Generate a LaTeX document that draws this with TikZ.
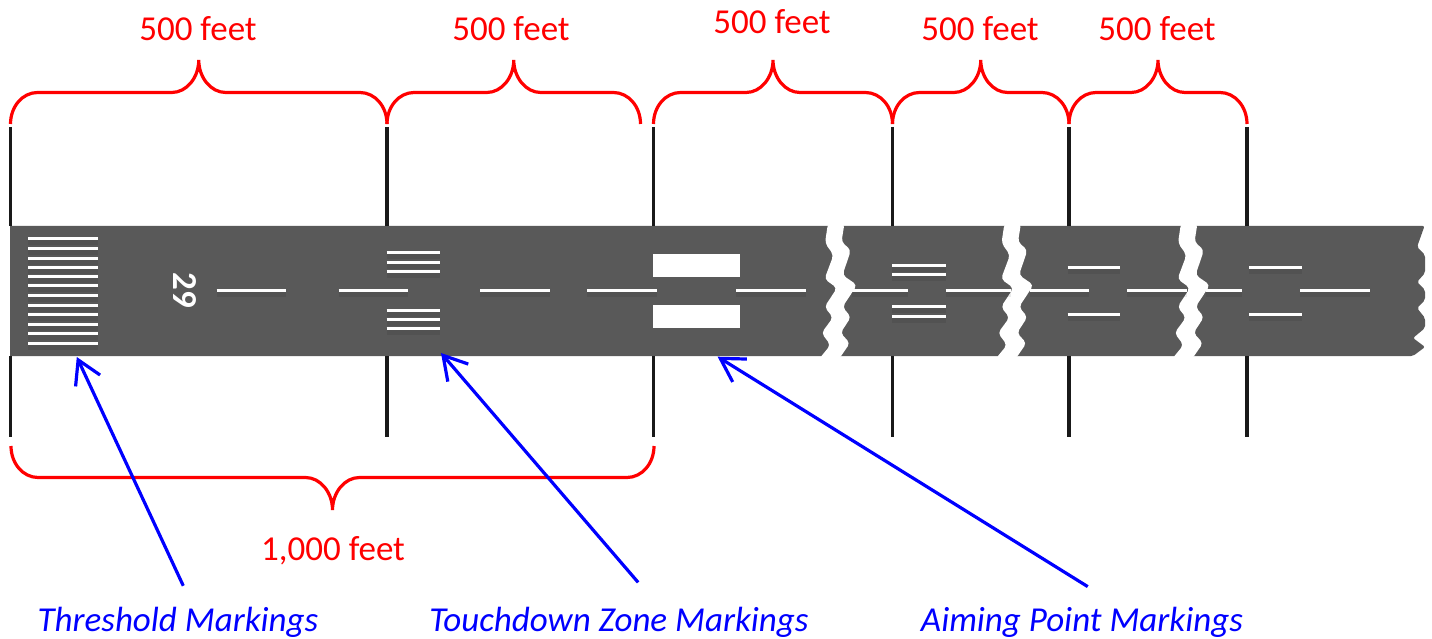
\documentclass[tikz,border=0pt]{standalone}
\usepackage{fontspec}
\setmainfont{Carlito}
\usetikzlibrary{positioning, arrows.meta}
\definecolor{runway}{HTML}{595959}
\newcommand{\spanbrace}[4]{
  \draw[bracket] (#1,#3) .. controls (#1,{#3-#4*17.4}) and ({#1+12},{#3-#4*31.5}) .. ({#1+27},{#3-#4*31.5})
    -- ({(#1+#2)/2-27},{#3-#4*31.5}) .. controls ({(#1+#2)/2-12},{#3-#4*31.5}) and ({(#1+#2)/2},{#3-#4*46.5}) .. ({(#1+#2)/2},{#3-#4*64})
    .. controls ({(#1+#2)/2},{#3-#4*46.5}) and ({(#1+#2)/2+12},{#3-#4*31.5}) .. ({(#1+#2)/2+27},{#3-#4*31.5})
    -- ({#2-27},{#3-#4*31.5}) .. controls ({#2-12},{#3-#4*31.5}) and (#2,{#3-#4*17.4}) .. (#2,#3);
}

\begin{document}
\begin{tikzpicture}[
    x=1pt, y=-1pt,
    span/.style={text=red, font=\fontsize{35}{38}\selectfont, inner sep=0pt},
    callout/.style={text=blue, font=\fontsize{35}{38}\selectfont\itshape, inner sep=0pt},
    bracket/.style={draw=red, line width=3.2pt},
    tick/.style={draw=black!90, line width=3.2pt},
    stripe/.style={draw=white, line width=3pt,
      preaction={draw=black, draw opacity=.08, line width=7pt, transform canvas={yshift=-3pt}}},
    slab/.style={fill=white},
    pointer/.style={draw=blue, line width=3.2pt,
      {Straight Barb[length=23pt, width=27pt, line width=3.2pt]}-}]
    \useasboundingbox (0,0) rectangle (1432,639);

    \fill[runway, rounded corners=2pt] (10,226) -- (1424.5,226) -- (1417,247) -- (1425,255) -- (1425,273)
      -- (1417,282) -- (1425,290) -- (1425,300) -- (1417,308) -- (1425,318)
      -- (1425,328) -- (1413,338) -- (1425,347) -- (1413,356) -- (10,356) -- cycle;
    \fill[runway] (10,226) rectangle (1400,356);
    \foreach \gapx in {0,176.5,353}
      \fill[white, rounded corners=4pt, xshift=\gapx pt] (828,223) -- (825,243) -- (833.5,255)
        -- (824.5,279) -- (837,288) -- (824.5,307) -- (833,317.5) -- (821.5,333) -- (830.5,345)
        -- (819,359) -- (839,359) -- (850,343) -- (840.5,333) -- (851,317) -- (842.5,307)
        -- (857,285) -- (842.5,275) -- (851,250) -- (841.5,242) -- (844.5,223) -- cycle;

    \foreach \stripey in {238.3,248.7,258,267,276.3,285.7,295.7,305,314.3,324.3,333.7,343}
      \draw[stripe] (28.3,\stripey) -- (98,\stripey);
    \foreach \stripey in {252.7,262,271.3,310,319.3,328.7}
      \draw[stripe] (386.7,\stripey) -- (440,\stripey);
    \foreach \stripey in {265.3,274.7,306.7,316}
      \draw[stripe] (892.3,\stripey) -- (945.5,\stripey);
    \foreach \stripey in {267.3,314.3} {
      \draw[stripe] (1067.7,\stripey) -- (1120,\stripey);
      \draw[stripe] (1249,\stripey) -- (1302,\stripey);
    }
    \foreach \dashl/\dashr in {216.5/286,338.5/408,480/550,587/657,736/806,851.5/908,
        945.5/1011,1029.5/1088.5,1127/1186.5,1206/1241.5,1300/1369.5}
      \draw[stripe] (\dashl,290.5) -- (\dashr,290.5);
    \fill[slab] (652.7,254.3) rectangle (740.3,277.3);
    \fill[slab] (652.7,305) rectangle (740.3,327.7);
    \node[text=white, font=\fontsize{35}{38}\selectfont\bfseries, inner sep=0pt, rotate=-90] (rwnum) at (185,290.5) {29};

    \foreach \tickx in {10.5,387,653.5,892.5,1069,1247} {
      \draw[tick] (\tickx,127) -- (\tickx,226);
      \draw[tick] (\tickx,356) -- (\tickx,437);
    }

    \spanbrace{10.5}{387}{124}{1}
    \spanbrace{387}{640.5}{124}{1}
    \spanbrace{653.5}{892.5}{124}{1}
    \spanbrace{892.5}{1069}{124}{1}
    \spanbrace{1069}{1247}{124}{1}
    \spanbrace{11}{654}{446}{-1}

    \node[span] (lena) at (198,29) {500 feet};
    \node[span] (lenb) at (511,29) {500 feet};
    \node[span] (lenc) at (772,22) {500 feet};
    \node[span] (lend) at (980,29) {500 feet};
    \node[span] (lene) at (1157,29) {500 feet};
    \node[span] (lenf) at (333,551) {1,000 feet};

    \node[callout] (thresh) at (178,622) {Threshold Markings};
    \node[callout] (tdz)    at (619,622) {Touchdown Zone Markings};
    \node[callout] (aim)    at (1082,622) {Aiming Point Markings};
    \coordinate (threshtip) at (76.8,357);
    \coordinate (tdztip)    at (441,353);
    \coordinate (aimtip)    at (717.6,356.7);
    \draw[pointer, shorten >=23pt] (threshtip) -- ([xshift=15pt]thresh.north);
    \draw[pointer, shorten >=32pt] (tdztip)    -- ([xshift=40pt]tdz.north);
    \draw[pointer, shorten >=38pt] (aimtip)    -- ([xshift=38pt]aim.north);
\end{tikzpicture}
\end{document}
